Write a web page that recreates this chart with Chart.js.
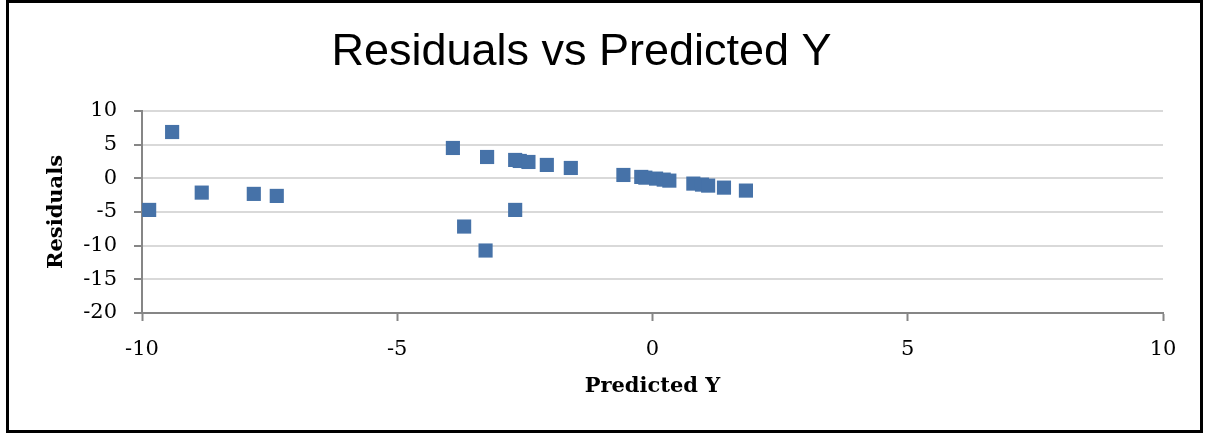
<!DOCTYPE html>
<html>
<head>
<meta charset="utf-8">
<script src="https://cdn.jsdelivr.net/npm/chart.js@4"></script>
<style>
  html, body { margin: 0; padding: 0; background: #fff; }
  #wrap { position: relative; width: 1205px; height: 434px; }
  #frame {
    position: absolute; left: 6px; top: 0px; width: 1191px; height: 427px;
    border: 3px solid #000; pointer-events: none;
  }
</style>
</head>
<body>
<div id="wrap">
  <canvas id="residChart" width="1205" height="434"></canvas>
  <div id="frame"></div>
</div>
<script>
const chartTitle = "Residuals vs Predicted Y";
const xTitle = "Predicted Y";
const yTitle = "Residuals";

// values
const predictedY = [-9.86, -9.41, -8.83, -7.81, -7.36, -3.91, -3.69, -3.27, -3.24, -2.69, -2.69, -2.60, -2.43,
  -2.07, -1.60, -0.57, -0.22, -0.14, 0.07, 0.22, 0.33, 0.80, 0.97, 1.09, 1.40, 1.83];
const residuals = [-4.69, 6.88, -2.12, -2.31, -2.61, 4.51, -7.16, -10.72, 3.17, 2.73, -4.69, 2.58, 2.43,
  1.99, 1.54, 0.50, 0.21, 0.10, -0.04, -0.19, -0.34, -0.78, -0.93, -1.08, -1.38, -1.82];

const xMin = -10, xMax = 10, xStep = 5;
const yMin = -20, yMax = 10, yStep = 5;

const points = predictedY.map((x, i) => ({ x: x, y: residuals[i] }));

const axisGray = '#868686';
const gridGray = '#d9d9d9';
const tickFont = { family: 'DejaVu Serif', size: 21 };
const labelFont = { family: 'DejaVu Serif', size: 21, weight: 'bold' };

new Chart(document.getElementById('residChart').getContext('2d'), {
  type: 'scatter',
  data: {
    datasets: [{
      label: yTitle,
      data: points,
      pointStyle: 'rect',
      pointRadius: 10,
      pointHoverRadius: 10,
      backgroundColor: '#4672a8',
      borderColor: '#4672a8',
      borderWidth: 0
    }]
  },
  options: {
    responsive: false,
    animation: false,
    layout: { padding: { left: 0, right: 42, top: 0, bottom: 0 } },
    plugins: {
      legend: { display: false },
      tooltip: { enabled: false },
      title: {
        display: true,
        text: chartTitle,
        color: '#000',
        font: { family: 'Liberation Sans', size: 45, weight: 'normal' },
        padding: { top: 26, bottom: 31 }
      }
    },
    scales: {
      x: {
        type: 'linear',
        min: xMin, max: xMax,
        ticks: { stepSize: xStep, color: '#000', font: tickFont, padding: 16 },
        grid: { drawOnChartArea: false, drawTicks: true, tickLength: 8, tickColor: axisGray, tickWidth: 2 },
        border: { color: axisGray, width: 2 },
        title: { display: true, text: xTitle, color: '#000', font: labelFont, padding: { top: 0, bottom: 35 } },
        afterFit: s => { s.height = 121; }
      },
      y: {
        type: 'linear',
        min: yMin, max: yMax,
        ticks: { stepSize: yStep, color: '#000', font: tickFont, padding: 17 },
        grid: { color: gridGray, lineWidth: 2, drawTicks: true, tickLength: 8, tickColor: axisGray, tickWidth: 2 },
        border: { color: axisGray, width: 2 },
        title: { display: true, text: yTitle, color: '#000', font: labelFont, padding: { top: 44, bottom: 0 } },
        afterFit: s => { s.width = 142; }
      }
    }
  }
});
</script>
</body>
</html>
